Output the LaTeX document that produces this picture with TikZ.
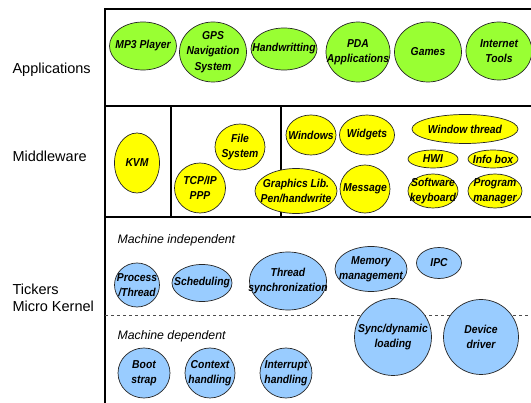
\documentclass[tikz,border=0pt]{standalone}
\usepackage{fontspec}
\setmainfont{Liberation Sans}
\newfontfamily\blobfont[FakeStretch=0.9]{Liberation Sans}
\usetikzlibrary{shapes.geometric}
\definecolor{appgreen}{HTML}{99FF33}
\definecolor{midyellow}{HTML}{FFFF00}
\definecolor{kernblue}{HTML}{99CCFF}
\begin{document}
\begin{tikzpicture}[x=1pt,y=-1pt,
  frame/.style={line width=1.8pt,black},
  layer/.style={font=\fontsize{14.5}{17}\selectfont,align=left,anchor=west},
  sub/.style={font=\fontsize{12.3}{14}\selectfont\itshape,anchor=west},
  % negative inner sep lets the given ellipse size win over the text size
  blob/.style={ellipse,draw=black!85,line width=0.7pt,inner sep=-40pt,outer sep=0pt,
    align=center,font=\blobfont\fontsize{11.5}{15.5}\selectfont\bfseries\itshape},
  app/.style={blob,fill=appgreen},
  mid/.style={blob,fill=midyellow},
  kern/.style={blob,fill=kernblue},
  sz/.style 2 args={minimum width=#1pt,minimum height=#2pt}]
\useasboundingbox (0,0) rectangle (531,403);

% layer frames
\draw[frame] (531,9) -- (105,9) -- (105,403);
\draw[frame] (105,106) -- (531,106);
\draw[frame] (105,217) -- (531,217);
\draw[frame] (171,106) -- (171,217);
\draw[frame] (281,106) -- (281,217);
\draw[dashed,black!70,line width=0.6pt] (105,315) -- (531,315);

% layer labels
\node[layer] (lapp) at (9,70) {Applications};
\node[layer] (lmid) at (9,156) {Middleware};
\node[layer] (lker) at (9,298) {Tickers\\Micro Kernel};
\node[sub] (mind) at (114,240) {Machine independent};
\node[sub] (mdep) at (114,336) {Machine dependent};

% applications
\node[app,sz={67}{48}] (mp3) at (143,46) {MP3 Player};
\node[app,sz={67}{60}] (gps) at (213,52) {GPS\\Navigation\\System};
\node[app,sz={66}{42}] (hw) at (284,49) {Handwritting};
\node[app,sz={64}{60}] (pda) at (358,52) {PDA\\Applications};
\node[app,sz={67}{60}] (games) at (428,52) {Games};
\node[app,sz={66}{58}] (inet) at (499,51) {Internet\\Tools};

% middleware
\node[mid,sz={45}{60}] (kvm) at (137,163) {KVM};
\node[mid,sz={51}{50}] (tcp) at (200,188) {TCP/IP\\PPP};
\node[mid,sz={50}{46}] (fs) at (240,147) {File\\System};
\node[mid,sz={50}{40}] (win) at (311,135) {Windows};
\node[mid,sz={55}{40}] (wid) at (367,135) {Widgets};
\node[mid,sz={82}{45}] (gfx) at (296,191) {Graphics Lib.\\Pen/handwrite};
\node[mid,sz={50}{48}] (msg) at (365,189) {Message};
\node[mid,sz={106}{29}] (wt) at (465,129) {Window thread};
\node[mid,sz={50}{18}] (hwi) at (433,159) {HWI};
\node[mid,sz={50}{18}] (info) at (493,159) {Info box};
\node[mid,sz={50}{34}] (skb) at (433,191) {Software\\keyboard};
\node[mid,sz={54}{34}] (pm) at (495,191) {Program\\manager};

% micro kernel, machine independent
\node[kern,sz={45}{44}] (proc) at (137,285) {Process\\/Thread};
\node[kern,sz={60}{37}] (sched) at (202,283) {Scheduling};
\node[kern,sz={77}{58}] (tsync) at (288,281) {Thread\\synchronization};
\node[kern,sz={72}{45}] (mem) at (371,269) {Memory\\management};
\node[kern,sz={45}{31}] (ipc) at (439,263) {IPC};
\node[kern,sz={77}{77}] (dyn) at (393,337) {Sync/dynamic\\loading};
\node[kern,sz={75}{75}] (dev) at (481,337) {Device\\driver};

% micro kernel, machine dependent
\node[kern,sz={52}{50}] (boot) at (144,373) {Boot\\strap};
\node[kern,sz={50}{50}] (ctx) at (210,373) {Context\\handling};
\node[kern,sz={52}{50}] (irq) at (286,373) {Interrupt\\handling};
\end{tikzpicture}
\end{document}
